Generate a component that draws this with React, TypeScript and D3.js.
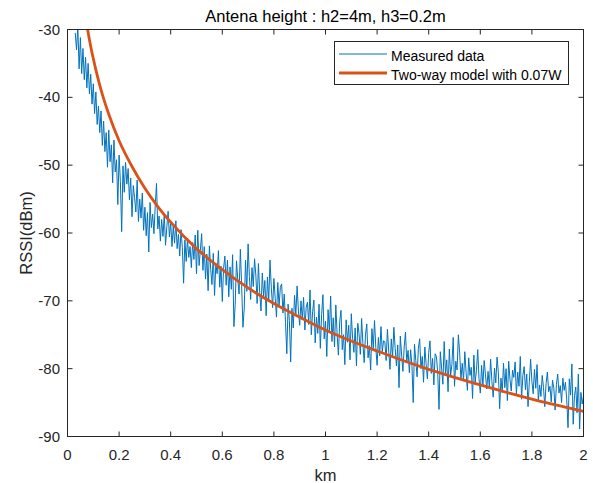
import * as d3 from 'd3'

// measured RSSI, one sample every 0.005 km starting at 0.03 km (20 per row)
const distStart = 0.03
const distStep = 0.005
const measured = [
  -30.5, -33.0, -29.6, -35.8, -31.2, -36.5, -32.8, -37.4, -34.1, -38.6, -35.0, -39.5, -36.6, -41.0, -38.0, -42.4, -39.2, -44.0, -41.3, -45.2,
  -42.0, -47.1, -43.5, -48.0, -45.2, -50.3, -44.8, -49.5, -47.0, -52.6, -46.3, -51.0, -49.2, -55.8, -48.5, -52.4, -59.8, -50.1, -54.0, -49.6,
  -52.8, -50.5, -55.1, -51.9, -57.6, -53.0, -54.8, -56.9, -52.2, -58.3, -55.0, -57.8, -54.1, -59.6, -56.2, -60.4, -57.0, -62.8, -55.5, -59.2,
  -57.2, -60.1, -56.0, -52.7, -59.4, -57.5, -61.2, -58.0, -60.5, -57.3, -61.8, -59.1, -56.8, -60.6, -58.4, -62.0, -59.0, -61.5, -58.2, -62.3,
  -60.2, -63.4, -59.5, -62.1, -67.4, -61.0, -64.2, -60.8, -63.6, -62.0, -65.1, -61.4, -63.9, -60.3, -66.0, -59.6, -64.8, -62.5, -60.1, -65.5,
  -62.0, -66.8, -63.1, -68.5, -61.9, -65.4, -67.6, -63.0, -69.2, -64.5, -66.0, -62.6, -68.0, -64.9, -70.1, -65.2, -63.4, -67.7, -64.0, -69.4,
  -65.0, -68.3, -63.2, -73.8, -70.5, -64.1, -66.9, -69.0, -62.4, -67.8, -73.9, -71.2, -64.0, -68.6, -61.6, -66.4, -69.8, -65.1, -67.9, -63.8,
  -66.2, -70.4, -64.5, -68.8, -71.5, -65.9, -69.3, -67.0, -72.2, -66.5, -70.0, -64.0, -68.1, -71.0, -66.7, -69.6, -72.4, -67.3, -70.8, -68.0,
  -67.5, -71.8, -69.0, -73.2, -77.8, -70.5, -72.9, -79.0, -71.1, -74.0, -69.2, -72.0, -67.8, -71.5, -73.6, -70.0, -72.8, -69.5, -74.3, -71.0,
  -70.2, -73.5, -68.4, -75.0, -71.6, -69.9, -76.2, -72.4, -74.8, -70.5, -77.0, -72.0, -69.1, -75.6, -73.0, -78.2, -71.3, -74.5, -69.3, -76.0,
  -72.5, -76.8, -70.6, -74.9, -78.0, -73.1, -71.4, -77.2, -75.0, -79.4, -72.8, -76.1, -73.6, -78.7, -71.9, -75.5, -77.6, -74.0, -79.6, -73.3,
  -74.8, -77.9, -72.6, -76.3, -79.1, -75.0, -73.4, -78.4, -76.6, -80.2, -74.1, -77.0, -72.9, -76.9, -79.5, -75.4, -78.1, -73.8, -77.5, -75.9,
  -76.0, -78.8, -74.2, -77.4, -80.1, -75.6, -78.3, -73.9, -77.0, -79.6, -76.5, -82.8, -75.2, -78.0, -80.4, -76.8, -74.6, -79.1, -77.3, -80.6,
  -77.2, -79.5, -85.0, -76.4, -78.8, -81.2, -77.0, -75.6, -80.0, -78.2, -82.0, -76.8, -79.3, -81.5, -77.6, -75.9, -80.7, -78.5, -82.4, -77.8,
  -78.2, -80.6, -86.0, -77.5, -79.9, -82.3, -76.0, -80.8, -78.7, -83.4, -77.1, -81.0, -79.4, -75.4, -82.6, -78.9, -80.2, -75.0, -77.7, -81.6,
  -79.2, -81.8, -77.5, -80.6, -83.2, -78.4, -81.0, -79.8, -84.4, -78.0, -82.1, -80.3, -77.2, -81.5, -83.6, -79.5, -82.6, -78.8, -80.9, -83.0,
  -80.4, -82.7, -78.6, -81.9, -84.2, -79.9, -82.1, -78.3, -80.6, -85.9, -81.4, -83.5, -79.2, -82.8, -80.0, -84.7, -78.9, -81.6, -83.3, -80.2,
  -81.3, -79.0, -83.8, -80.5, -82.6, -78.2, -84.5, -81.0, -79.7, -83.1, -80.8, -85.6, -82.0, -78.6, -81.9, -83.7, -80.1, -82.9, -79.4, -84.8,
  -82.4, -84.1, -81.0, -82.8, -85.6, -82.2, -80.5, -83.4, -82.6, -84.9, -81.7, -82.9, -86.1, -82.3, -80.8, -83.6, -82.5, -85.0, -81.4, -83.2,
  -82.0, -84.6, -88.7, -81.5, -83.9, -79.3, -88.2, -84.0, -82.7, -86.5, -80.8, -88.9, -83.5, -85.2, -84.0,
]

// two-way model curve, read at a few distances
const modelDist = [0.06, 0.078, 0.09, 0.1, 0.12, 0.14, 0.16, 0.2, 0.25, 0.3, 0.35, 0.4, 0.5, 0.6, 0.7, 0.8, 0.9, 1.0, 1.2, 1.4, 1.6, 1.8, 2.0]
const modelRssi = [-25.4, -30, -32.5, -34.3, -37.5, -40.2, -42.5, -46.4, -50.2, -53.4, -56.1, -58.4, -62.3, -65.4, -68.1, -70.4, -72.4, -74.3, -77.4, -80.1, -82.4, -84.5, -86.3]

const xTicks = [0, 0.2, 0.4, 0.6, 0.8, 1, 1.2, 1.4, 1.6, 1.8, 2]
const xTickLabels = ['0', '0.2', '0.4', '0.6', '0.8', '1', '1.2', '1.4', '1.6', '1.8', '2']
const yTicks = [-30, -40, -50, -60, -70, -80, -90]
const yTickLabels = ['-30', '-40', '-50', '-60', '-70', '-80', '-90']

const legendNames = ['Measured data', 'Two-way model with 0.07W']

const W = 593
const H = 483
const left = 67.5
const right = 583.5
const top = 29.5
const bottom = 436.5
const axisColor = '#262626'
const blue = '#0072BD'
const orange = '#D95319'
const font = 'Arial, "Liberation Sans", Helvetica, sans-serif'

export default function App() {
  const x = d3.scaleLinear().domain([0, 2]).range([left, right])
  const y = d3.scaleLinear().domain([-90, -30]).range([bottom, top])

  const measuredPts = measured.map((v, i) => [distStart + i * distStep, v] as [number, number])
  const modelPts = modelDist.map((d, i) => [d, modelRssi[i]] as [number, number])

  const line = d3.line<[number, number]>().x(d => x(d[0])).y(d => y(d[1]))
  const smooth = d3.line<[number, number]>().x(d => x(d[0])).y(d => y(d[1])).curve(d3.curveMonotoneX)

  const tick = 5

  return (
    <svg width={W} height={H} style={{ position: 'fixed', left: 0, top: 0, background: '#fff' }} fontFamily={font}>
      <defs>
        <clipPath id="plotArea">
          <rect x={left} y={top} width={right - left} height={bottom - top} />
        </clipPath>
      </defs>
      <rect x={0} y={0} width={W} height={H} fill="#fff" />

      <g clipPath="url(#plotArea)">
        <path d={line(measuredPts) ?? ''} fill="none" stroke={blue} strokeWidth={1} />
        <path d={smooth(modelPts) ?? ''} fill="none" stroke={orange} strokeWidth={2.8} />
      </g>

      {/* box and ticks */}
      <rect x={left} y={top} width={right - left} height={bottom - top} fill="none" stroke={axisColor} strokeWidth={1} />
      {xTicks.map(t => (
        <g key={'xt' + t}>
          <line x1={x(t)} x2={x(t)} y1={bottom} y2={bottom - tick} stroke={axisColor} />
          <line x1={x(t)} x2={x(t)} y1={top} y2={top + tick} stroke={axisColor} />
        </g>
      ))}
      {yTicks.map(t => (
        <g key={'yt' + t}>
          <line x1={left} x2={left + tick} y1={y(t)} y2={y(t)} stroke={axisColor} />
          <line x1={right} x2={right - tick} y1={y(t)} y2={y(t)} stroke={axisColor} />
        </g>
      ))}

      {xTicks.map((t, i) => (
        <text key={'xl' + t} x={x(t)} y={460} textAnchor="middle" fontSize={15} fill={axisColor}>
          {xTickLabels[i]}
        </text>
      ))}
      {yTicks.map((t, i) => (
        <text key={'yl' + t} x={60} y={y(t) + 5} textAnchor="end" fontSize={15} fill={axisColor}>
          {yTickLabels[i]}
        </text>
      ))}

      <text x={(left + right) / 2} y={22} textAnchor="middle" fontSize={16.5} fill="#000">
        Antena height : h2=4m, h3=0.2m
      </text>
      <text x={(left + right) / 2} y={481} textAnchor="middle" fontSize={16.5} fill={axisColor}>
        km
      </text>
      <text transform={`translate(32, ${(top + bottom) / 2}) rotate(-90)`} textAnchor="middle" fontSize={16.5} fill={axisColor}>
        RSSI(dBm)
      </text>

      {/* legend */}
      <g>
        <rect x={334.5} y={41.5} width={234} height={43} fill="#fff" stroke={axisColor} strokeWidth={1} />
        <line x1={339} x2={387} y1={54} y2={54} stroke={blue} strokeWidth={1} />
        <line x1={339} x2={387} y1={73} y2={73} stroke={orange} strokeWidth={2.8} />
        <text x={391} y={61} fontSize={14} fill="#000">{legendNames[0]}</text>
        <text x={391} y={80} fontSize={14} fill="#000">{legendNames[1]}</text>
      </g>
    </svg>
  )
}
